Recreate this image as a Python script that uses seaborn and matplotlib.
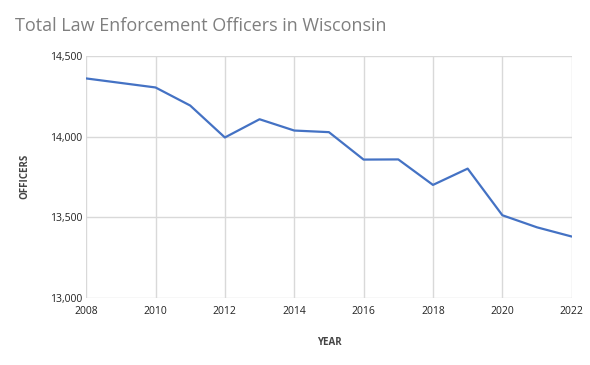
import matplotlib
matplotlib.use("Agg")
import matplotlib.pyplot as plt
import seaborn as sns
import pandas as pd
from matplotlib.ticker import FuncFormatter, MultipleLocator

years = [2008, 2009, 2010, 2011, 2012, 2013, 2014, 2015, 2016, 2017, 2018, 2019, 2020, 2021, 2022]
officers = [14360, 14332, 14304, 14192, 13994, 14107, 14037, 14027, 13857, 13858, 13700, 13801, 13512, 13437, 13380]

df = pd.DataFrame({"YEAR": years, "OFFICERS": officers})

sns.set_theme(style="white")
plt.rcParams['font.family'] = ['Open Sans', 'DejaVu Sans']

fig = plt.figure(figsize=(5.9, 3.65), dpi=100)
ax = fig.add_axes([0.146, 0.184, 0.823, 0.663])

sns.lineplot(data=df, x="YEAR", y="OFFICERS", ax=ax, color="#4472C4", linewidth=1.6)

ax.set_xlim(2008, 2022)
ax.set_ylim(13000, 14500)
ax.xaxis.set_major_locator(MultipleLocator(2))
ax.yaxis.set_major_locator(MultipleLocator(500))
ax.yaxis.set_major_formatter(FuncFormatter(lambda v, p: f"{int(v):,}"))
ax.grid(True, color="#d9d9d9", linewidth=1)
for s in ax.spines.values():
    s.set_visible(False)
ax.tick_params(axis="both", length=0, labelsize=7.5, colors="#222222")
ax.tick_params(axis="y", pad=3)
ax.tick_params(axis="x", pad=6)

ax.set_xlabel("YEAR", fontsize=7, fontweight="bold", color="#444444", labelpad=14)
ax.set_ylabel("OFFICERS", fontsize=7, fontweight="bold", color="#444444", labelpad=14)

fig.text(0.025, 0.93, "Total Law Enforcement Officers in Wisconsin", fontsize=13, color="#7f7f7f", ha="left", va="center")

fig.savefig("out.png", dpi=100, facecolor="white")
